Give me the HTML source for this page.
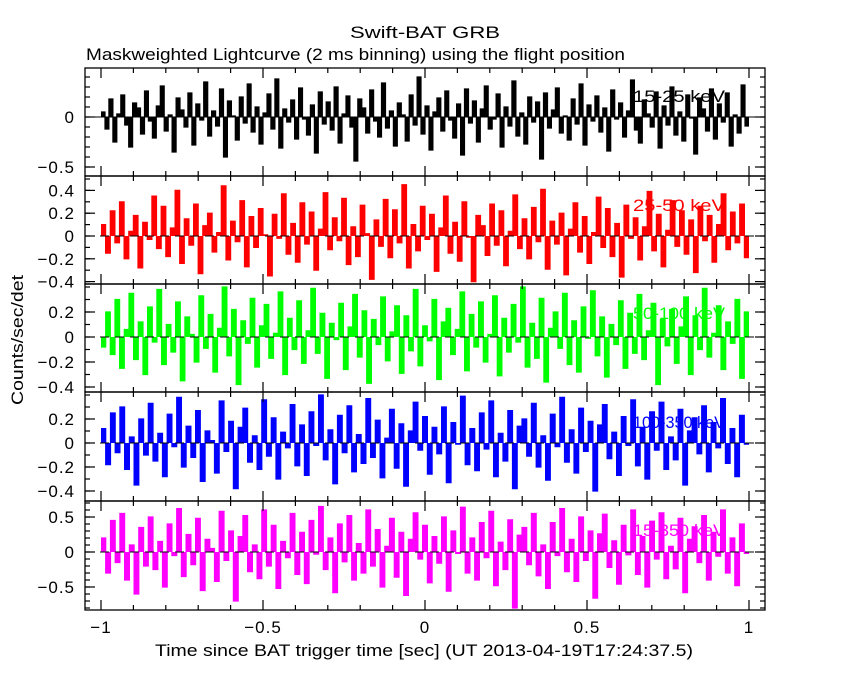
<!DOCTYPE html>
<html><head><meta charset="utf-8"><style>
body{margin:0;background:#fff}
svg text{font-family:"Liberation Sans",sans-serif;font-size:17px}
</style></head><body>
<svg id="c" width="850" height="680">
<text x="425" y="38" text-anchor="middle" textLength="150" lengthAdjust="spacingAndGlyphs">Swift-BAT GRB</text>
<text x="86" y="60" textLength="539" lengthAdjust="spacingAndGlyphs">Maskweighted Lightcurve (2 ms binning) using the flight position</text>
<text transform="translate(23,340) rotate(-90)" text-anchor="middle" textLength="130" lengthAdjust="spacingAndGlyphs">Counts/sec/det</text>
<text x="155" y="656" textLength="538" lengthAdjust="spacingAndGlyphs">Time since BAT trigger time [sec] (UT 2013-04-19T17:24:37.5)</text>
</svg>
<script>
const p1=[5,-12,18,-25,3,22,-8,-30,14,9,-17,26,-4,-21,11,31,-14,2,-35,19,7,-10,24,-28,13,-3,35,-19,6,-9,28,-40,16,1,-23,20,-6,33,-15,10,-27,4,23,-12,38,-31,8,-5,17,-22,29,-2,-18,12,-36,25,-7,15,-13,30,-26,3,21,-10,-44,18,9,-16,27,-4,-20,34,-11,6,-29,14,2,-24,22,-8,40,-17,11,-33,5,19,-14,26,-3,-21,13,-38,28,-6,16,-25,8,31,-12,-2,23,-30,10,-9,36,-19,4,-27,20,-5,15,-42,24,-11,7,29,-16,1,-23,18,-7,33,-28,12,-4,21,-15,9,-34,27,-2,14,-20,6,37,-13,-26,17,3,-10,25,-31,11,-8,30,-18,5,-24,22,-1,-37,19,8,-14,28,-22,13,-5,24,-29,2,-16,32,-9];
const p2=[10,-15,22,-6,30,-20,4,18,-28,12,-3,35,-11,26,-18,7,40,-24,15,-8,28,-33,9,20,-14,3,44,-21,13,-5,31,-27,17,-10,24,1,-35,19,-2,37,-16,11,-23,29,-7,21,-30,6,38,-12,16,-4,33,-25,8,-18,27,2,-38,14,-9,32,-19,23,-6,45,-28,10,-13,26,-3,19,-31,7,35,-15,12,-22,30,-1,-40,18,9,-17,28,-8,22,-26,4,36,-11,15,-20,25,-5,41,-29,13,-7,20,-34,6,29,-14,17,-24,3,34,-10,24,-18,11,-36,27,-2,16,-21,8,39,-13,19,-27,5,31,-9,22,-16,14,-32,26,-4,18,-23,10,37,-12,21,-6,28,-19];
const p3=[-8,20,-14,30,-25,6,35,-18,12,-30,24,-4,38,-22,10,-12,28,-35,16,2,-20,33,-9,18,-28,7,40,-15,22,-38,13,-5,31,-24,9,26,-17,3,36,-30,15,-10,29,-21,5,39,-13,19,-33,11,-2,27,-26,8,34,-16,21,-37,14,-6,32,-19,4,25,-29,17,-11,38,-23,9,-3,30,-34,12,23,-14,6,36,-27,18,-8,28,-20,2,33,-31,15,-12,26,-4,40,-24,11,-17,31,-36,7,20,-9,35,-22,13,-28,24,-1,37,-15,16,-32,10,-6,29,-25,19,-13,34,-18,5,27,-38,14,-7,22,-21,8,32,-30,17,-10,39,-16,3,25,-26,12,-5,30,-33,20];
const p4=[12,-18,25,-8,30,-22,5,-35,20,-10,33,-15,8,-28,24,-3,38,-20,14,-12,27,-32,10,2,-25,35,-7,18,-38,13,29,-16,6,-22,36,-11,21,-30,9,-4,32,-19,15,-27,26,-2,40,-14,11,-34,23,-8,31,-24,7,-17,37,-12,19,-29,4,28,-21,16,-36,10,34,-6,22,-26,13,-9,30,-33,17,-1,39,-18,12,-23,25,-5,35,-28,8,-15,27,-38,14,20,-11,33,-20,6,-31,24,-3,38,-16,11,-25,29,-7,18,-40,15,32,-13,9,-27,22,-2,36,-19,13,-30,26,-6,34,-22,5,-14,28,-35,10,21,-9,31,-24,17,-4,37,-17,12,-28,23,-1];
const p5=[20,-30,45,-15,55,-40,10,-60,35,-20,50,-25,15,-50,40,-5,62,-35,25,-18,48,-55,18,5,-42,58,-12,30,-70,22,52,-28,10,-38,60,-20,38,-52,15,-8,55,-32,28,-45,45,-3,65,-25,20,-58,40,-14,52,-40,12,-30,60,-20,32,-50,8,48,-36,28,-62,18,56,-10,38,-44,22,-16,50,-56,30,-2,64,-30,20,-40,42,-8,58,-48,14,-25,46,-80,24,35,-18,55,-34,10,-52,42,-5,62,-28,18,-42,50,-12,30,-66,26,54,-22,16,-46,38,-4,60,-32,22,-50,44,-10,56,-38,8,-24,48,-58,18,36,-15,52,-40,28,-6,60,-30,20,-48,40,-2];
const bandLabels=["15-25 keV","25-50 keV","50-100 keV","100-350 keV","15-350 keV"];
const xTicks=[-1,-0.5,0,0.5,1];
const xTickLabels=["\u22121","\u22120.5","0","0.5","1"];
const yTicks1=[0,-0.5], yTickLabels1=["0","\u22120.5"];
const yTicks2=[0.4,0.2,0,-0.2,-0.4], yTickLabels2=["0.4","0.2","0","\u22120.2","\u22120.4"];
const yTicks3=[0.2,0,-0.2,-0.4], yTickLabels3=["0.2","0","\u22120.2","\u22120.4"];
const yTicks4=[0.2,0,-0.2,-0.4], yTickLabels4=["0.2","0","\u22120.2","\u22120.4"];
const yTicks5=[0.5,0,-0.5], yTickLabels5=["0.5","0","\u22120.5"];

const NS="http://www.w3.org/2000/svg";
const svg=document.getElementById('c');
function mk(t,a,parent){const e=document.createElementNS(NS,t);for(const k in a)e.setAttribute(k,a[k]);(parent||svg).appendChild(e);return e;}
const L=85,R=765;
const xs=t=>425+t*324;
const panels=[
 {d:p1,c:"#000",top:68,bot:176,y0:117,s:100,lo:-0.5,hi:0.4,t:yTicks1,tl:yTickLabels1,ly:102,dash:false},
 {d:p2,c:"#ff0000",top:176,bot:284,y0:236,s:114,lo:-0.4,hi:0.5,t:yTicks2,tl:yTickLabels2,ly:211,dash:true},
 {d:p3,c:"#00ff00",top:284,bot:392,y0:337,s:125,lo:-0.4,hi:0.4,t:yTicks3,tl:yTickLabels3,ly:319,dash:true},
 {d:p4,c:"#0000ff",top:392,bot:501,y0:443,s:120,lo:-0.4,hi:0.4,t:yTicks4,tl:yTickLabels4,ly:428,dash:true},
 {d:p5,c:"#ff00ff",top:501,bot:610,y0:552,s:70,lo:-0.8,hi:0.7,t:yTicks5,tl:yTickLabels5,ly:536,dash:true}
];
panels.forEach((p,pi)=>{
 const g=mk('g',{});
 
 
 const ys=v=>p.y0-v*p.s;
 const lab=mk('text',{x:633,y:p.ly,fill:p.c,textLength:92,lengthAdjust:'spacingAndGlyphs'},g);
 lab.textContent=bandLabels[pi];
 
 
 const n=p.d.length, w=2/n;
 let dstr="", fstr="";
 p.d.forEach((v,i)=>{
  const x1=xs(-1+i*w),x2=xs(-1+(i+1)*w),y=ys(v/100);
  dstr+=(i?"L":"M")+x1.toFixed(1)+","+y.toFixed(1)+"L"+x2.toFixed(1)+","+y.toFixed(1);
  fstr+="M"+x1.toFixed(1)+","+ys(0).toFixed(1)+"L"+x1.toFixed(1)+","+y.toFixed(1)+"L"+x2.toFixed(1)+","+y.toFixed(1)+"L"+x2.toFixed(1)+","+ys(0).toFixed(1)+"Z";
 });
 const fill=mk('path',{d:fstr,fill:p.c,stroke:'none'},g);
 
 
 const path=mk('path',{d:dstr,fill:'none',stroke:p.c,'stroke-width':1.2},g);
 
 
 const z=mk('line',{x1:L,x2:R,y1:ys(0),y2:ys(0),stroke:'#000','stroke-width':1,'stroke-dasharray':p.dash?'9,6':'none'},g);
 
 
 const fr=mk('rect',{x:L,y:p.top,width:R-L,height:p.bot-p.top,fill:'none',stroke:'#000','stroke-width':1.3},g);
 
 
 for(let k=-10;k<=10;k++){
  const t=k/10,x=xs(t),len=(k%5===0)?10:5;
  mk('line',{x1:x,x2:x,y1:p.top,y2:p.top+len,stroke:'#000','stroke-width':1.2},g);
  mk('line',{x1:x,x2:x,y1:p.bot,y2:p.bot-len,stroke:'#000','stroke-width':1.2},g);
 }
 for(let k=Math.ceil(p.lo*10);k<=Math.floor(p.hi*10);k++){
  const y=ys(k/10); if(y<p.top||y>p.bot)continue;
  mk('line',{x1:L,x2:L+5,y1:y,y2:y,stroke:'#000','stroke-width':1.2},g);
  mk('line',{x1:R,x2:R-5,y1:y,y2:y,stroke:'#000','stroke-width':1.2},g);
 }
 p.t.forEach((v,i)=>{
  const y=ys(v);
  mk('line',{x1:L,x2:L+10,y1:y,y2:y,stroke:'#000','stroke-width':1.2},g);
  mk('line',{x1:R,x2:R-10,y1:y,y2:y,stroke:'#000','stroke-width':1.2},g);
  const tx=mk('text',{x:75,y:y+6,'text-anchor':'end','letter-spacing':'1'},g);
  tx.textContent=p.tl[i];
  
  
 });
});
xTicks.forEach((t,i)=>{
 const tx=mk('text',{x:xs(t),y:633,'text-anchor':'middle','letter-spacing':'1'});
 tx.textContent=xTickLabels[i];
 
 
});
</script>
</body></html>
